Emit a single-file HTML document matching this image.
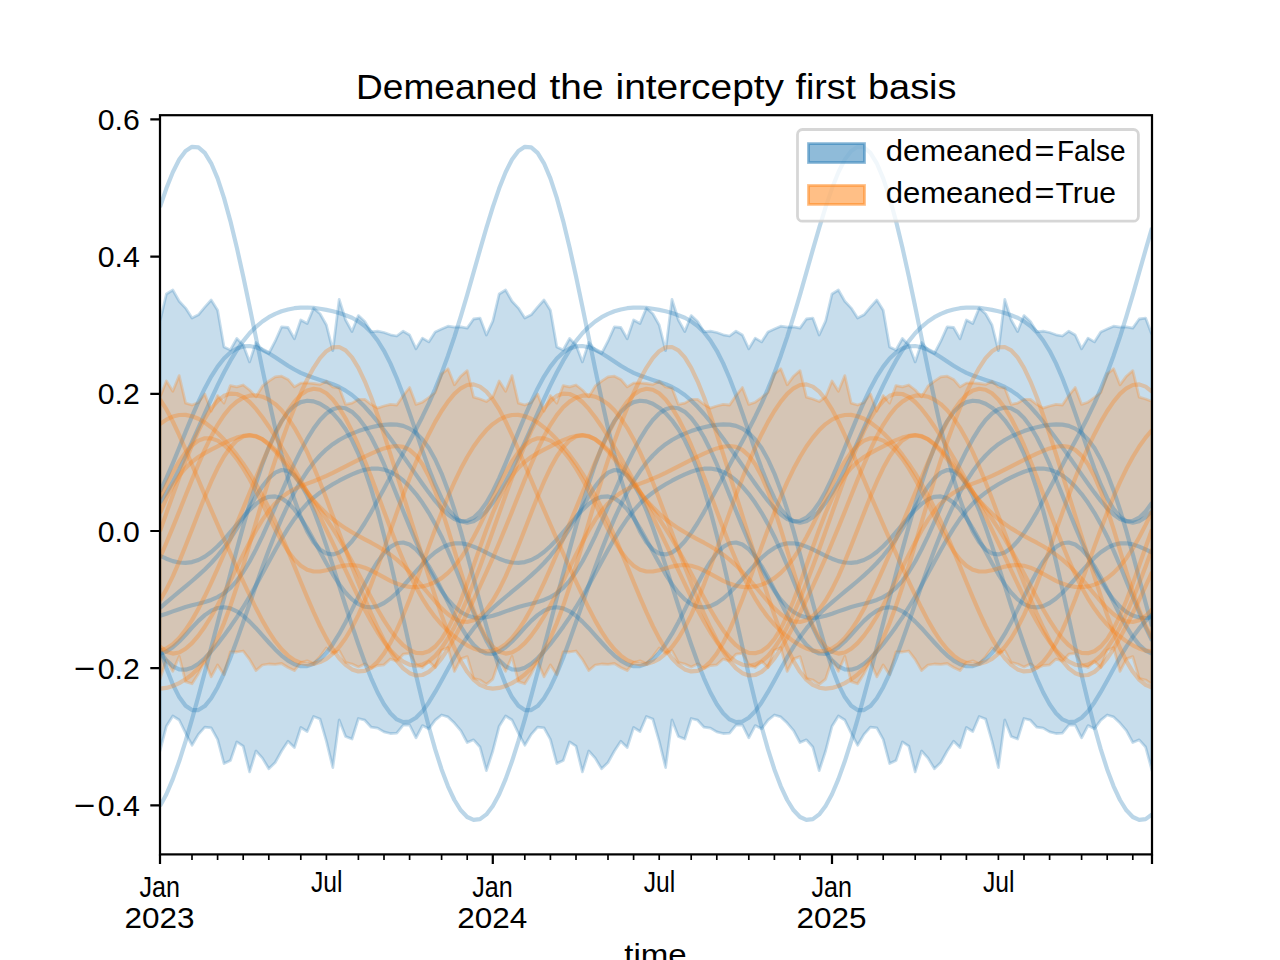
<!DOCTYPE html>
<html><head><meta charset="utf-8"><title>Demeaned the intercepty first basis</title>
<style>html,body{margin:0;padding:0;background:#fff;}body{width:1280px;height:960px;overflow:hidden;font-family:"Liberation Sans",sans-serif;}svg{display:block;}</style>
</head><body>
<svg width="1280" height="960" viewBox="0 0 1280 960">
<rect width="1280" height="960" fill="#fff"/>
<defs><clipPath id="ax"><rect x="160.0" y="115.2" width="992.0" height="739.2"/></clipPath></defs>
<g clip-path="url(#ax)">
<path d="M160.0,321.2 L166.4,294.0 L172.8,290.0 L179.2,301.2 L185.6,308.1 L192.0,318.1 L198.4,314.8 L204.8,307.2 L211.2,300.0 L217.6,310.2 L224.0,346.9 L230.4,350.0 L236.8,338.5 L243.2,345.0 L249.6,361.9 L256.0,342.5 L262.4,350.0 L268.8,353.5 L275.2,341.2 L281.6,326.9 L288.0,327.5 L294.4,338.8 L300.8,320.0 L307.2,323.5 L313.6,308.1 L320.0,313.8 L326.4,325.0 L332.8,350.6 L339.2,299.4 L345.6,320.0 L352.0,331.5 L358.4,315.6 L364.8,321.5 L371.2,331.9 L377.6,331.2 L384.0,332.5 L390.4,334.8 L396.8,336.0 L403.2,331.2 L409.6,335.0 L416.0,348.8 L422.4,338.1 L428.8,341.9 L435.2,331.9 L441.6,329.0 L448.0,326.2 L454.4,327.2 L460.8,326.9 L467.2,328.1 L473.6,319.0 L480.0,318.1 L486.4,335.0 L492.8,321.2 L499.2,294.0 L505.6,290.0 L512.0,301.2 L518.4,308.1 L524.8,318.1 L531.2,314.8 L537.6,307.2 L544.0,300.0 L550.4,310.2 L556.8,346.9 L563.2,350.0 L569.6,338.5 L576.0,345.0 L582.4,361.9 L588.8,342.5 L595.2,350.0 L601.6,353.5 L608.0,341.2 L614.4,326.9 L620.8,327.5 L627.2,338.8 L633.6,320.0 L640.0,323.5 L646.4,308.1 L652.8,313.8 L659.2,325.0 L665.6,350.6 L672.0,299.4 L678.4,320.0 L684.8,331.5 L691.2,315.6 L697.6,321.5 L704.0,331.9 L710.4,331.2 L716.8,332.5 L723.2,334.8 L729.6,336.0 L736.0,331.2 L742.4,335.0 L748.8,348.8 L755.2,338.1 L761.6,341.9 L768.0,331.9 L774.4,329.0 L780.8,326.2 L787.2,327.2 L793.6,326.9 L800.0,328.1 L806.4,319.0 L812.8,318.1 L819.2,335.0 L825.6,321.2 L832.0,294.0 L838.4,290.0 L844.8,301.2 L851.2,308.1 L857.6,318.1 L864.0,314.8 L870.4,307.2 L876.8,300.0 L883.2,310.2 L889.6,346.9 L896.0,350.0 L902.4,338.5 L908.8,345.0 L915.2,361.9 L921.6,342.5 L928.0,350.0 L934.4,353.5 L940.8,341.2 L947.2,326.9 L953.6,327.5 L960.0,338.8 L966.4,320.0 L972.8,323.5 L979.2,308.1 L985.6,313.8 L992.0,325.0 L998.4,350.6 L1004.8,299.4 L1011.2,320.0 L1017.6,331.5 L1024.0,315.6 L1030.4,321.5 L1036.8,331.9 L1043.2,331.2 L1049.6,332.5 L1056.0,334.8 L1062.4,336.0 L1068.8,331.2 L1075.2,335.0 L1081.6,348.8 L1088.0,338.1 L1094.4,341.9 L1100.8,331.9 L1107.2,329.0 L1113.6,326.2 L1120.0,327.2 L1126.4,326.9 L1132.8,328.1 L1139.2,319.0 L1145.6,318.1 L1152.0,335.0 L1152.0,770.6 L1145.6,747.0 L1139.2,739.8 L1132.8,742.5 L1126.4,730.6 L1120.0,723.1 L1113.6,716.9 L1107.2,715.0 L1100.8,720.2 L1094.4,728.8 L1088.0,725.6 L1081.6,737.8 L1075.2,725.0 L1068.8,725.2 L1062.4,733.1 L1056.0,733.5 L1049.6,731.9 L1043.2,728.1 L1036.8,727.2 L1030.4,720.2 L1024.0,718.5 L1017.6,739.0 L1011.2,736.5 L1004.8,720.0 L998.4,767.5 L992.0,741.2 L985.6,719.0 L979.2,716.5 L972.8,731.5 L966.4,727.5 L960.0,747.5 L953.6,741.2 L947.2,751.0 L940.8,762.5 L934.4,768.8 L928.0,758.1 L921.6,751.0 L915.2,771.9 L908.8,746.2 L902.4,741.9 L896.0,760.6 L889.6,763.5 L883.2,739.4 L876.8,727.8 L870.4,727.2 L864.0,734.4 L857.6,745.2 L851.2,733.1 L844.8,720.0 L838.4,716.0 L832.0,726.2 L825.6,751.0 L819.2,770.6 L812.8,747.0 L806.4,739.8 L800.0,742.5 L793.6,730.6 L787.2,723.1 L780.8,716.9 L774.4,715.0 L768.0,720.2 L761.6,728.8 L755.2,725.6 L748.8,737.8 L742.4,725.0 L736.0,725.2 L729.6,733.1 L723.2,733.5 L716.8,731.9 L710.4,728.1 L704.0,727.2 L697.6,720.2 L691.2,718.5 L684.8,739.0 L678.4,736.5 L672.0,720.0 L665.6,767.5 L659.2,741.2 L652.8,719.0 L646.4,716.5 L640.0,731.5 L633.6,727.5 L627.2,747.5 L620.8,741.2 L614.4,751.0 L608.0,762.5 L601.6,768.8 L595.2,758.1 L588.8,751.0 L582.4,771.9 L576.0,746.2 L569.6,741.9 L563.2,760.6 L556.8,763.5 L550.4,739.4 L544.0,727.8 L537.6,727.2 L531.2,734.4 L524.8,745.2 L518.4,733.1 L512.0,720.0 L505.6,716.0 L499.2,726.2 L492.8,751.0 L486.4,770.6 L480.0,747.0 L473.6,739.8 L467.2,742.5 L460.8,730.6 L454.4,723.1 L448.0,716.9 L441.6,715.0 L435.2,720.2 L428.8,728.8 L422.4,725.6 L416.0,737.8 L409.6,725.0 L403.2,725.2 L396.8,733.1 L390.4,733.5 L384.0,731.9 L377.6,728.1 L371.2,727.2 L364.8,720.2 L358.4,718.5 L352.0,739.0 L345.6,736.5 L339.2,720.0 L332.8,767.5 L326.4,741.2 L320.0,719.0 L313.6,716.5 L307.2,731.5 L300.8,727.5 L294.4,747.5 L288.0,741.2 L281.6,751.0 L275.2,762.5 L268.8,768.8 L262.4,758.1 L256.0,751.0 L249.6,771.9 L243.2,746.2 L236.8,741.9 L230.4,760.6 L224.0,763.5 L217.6,739.4 L211.2,727.8 L204.8,727.2 L198.4,734.4 L192.0,745.2 L185.6,733.1 L179.2,720.0 L172.8,716.0 L166.4,726.2 L160.0,751.0Z" fill="#1f77b4" fill-opacity="0.25" stroke="#1f77b4" stroke-opacity="0.25" stroke-width="2.78" stroke-linejoin="round"/>
<path d="M160.0,396.9 L166.4,381.0 L172.8,391.2 L179.2,375.6 L185.6,403.1 L192.0,405.0 L198.4,402.5 L204.8,394.0 L211.2,411.2 L217.6,395.6 L224.0,403.1 L230.4,385.6 L236.8,386.9 L243.2,385.0 L249.6,390.0 L256.0,396.9 L262.4,386.2 L268.8,381.2 L275.2,376.9 L281.6,376.2 L288.0,379.4 L294.4,386.9 L300.8,383.1 L307.2,382.8 L313.6,383.5 L320.0,384.4 L326.4,381.2 L332.8,386.9 L339.2,388.1 L345.6,404.4 L352.0,403.1 L358.4,399.4 L364.8,399.4 L371.2,404.4 L377.6,408.1 L384.0,406.0 L390.4,404.4 L396.8,405.0 L403.2,395.6 L409.6,387.5 L416.0,404.4 L422.4,402.2 L428.8,397.5 L435.2,392.5 L441.6,373.8 L448.0,368.8 L454.4,384.8 L460.8,376.2 L467.2,370.6 L473.6,397.2 L480.0,399.0 L486.4,401.5 L492.8,396.9 L499.2,381.0 L505.6,391.2 L512.0,375.6 L518.4,403.1 L524.8,405.0 L531.2,402.5 L537.6,394.0 L544.0,411.2 L550.4,395.6 L556.8,403.1 L563.2,385.6 L569.6,386.9 L576.0,385.0 L582.4,390.0 L588.8,396.9 L595.2,386.2 L601.6,381.2 L608.0,376.9 L614.4,376.2 L620.8,379.4 L627.2,386.9 L633.6,383.1 L640.0,382.8 L646.4,383.5 L652.8,384.4 L659.2,381.2 L665.6,386.9 L672.0,388.1 L678.4,404.4 L684.8,403.1 L691.2,399.4 L697.6,399.4 L704.0,404.4 L710.4,408.1 L716.8,406.0 L723.2,404.4 L729.6,405.0 L736.0,395.6 L742.4,387.5 L748.8,404.4 L755.2,402.2 L761.6,397.5 L768.0,392.5 L774.4,373.8 L780.8,368.8 L787.2,384.8 L793.6,376.2 L800.0,370.6 L806.4,397.2 L812.8,399.0 L819.2,401.5 L825.6,396.9 L832.0,381.0 L838.4,391.2 L844.8,375.6 L851.2,403.1 L857.6,405.0 L864.0,402.5 L870.4,394.0 L876.8,411.2 L883.2,395.6 L889.6,403.1 L896.0,385.6 L902.4,386.9 L908.8,385.0 L915.2,390.0 L921.6,396.9 L928.0,386.2 L934.4,381.2 L940.8,376.9 L947.2,376.2 L953.6,379.4 L960.0,386.9 L966.4,383.1 L972.8,382.8 L979.2,383.5 L985.6,384.4 L992.0,381.2 L998.4,386.9 L1004.8,388.1 L1011.2,404.4 L1017.6,403.1 L1024.0,399.4 L1030.4,399.4 L1036.8,404.4 L1043.2,408.1 L1049.6,406.0 L1056.0,404.4 L1062.4,405.0 L1068.8,395.6 L1075.2,387.5 L1081.6,404.4 L1088.0,402.2 L1094.4,397.5 L1100.8,392.5 L1107.2,373.8 L1113.6,368.8 L1120.0,384.8 L1126.4,376.2 L1132.8,370.6 L1139.2,397.2 L1145.6,399.0 L1152.0,401.5 L1152.0,684.3 L1145.6,680.0 L1139.2,678.4 L1132.8,656.6 L1126.4,658.9 L1120.0,671.4 L1113.6,647.6 L1107.2,650.3 L1100.8,667.5 L1094.4,661.2 L1088.0,667.5 L1081.6,664.4 L1075.2,653.4 L1068.8,654.2 L1062.4,661.2 L1056.0,659.0 L1049.6,664.8 L1043.2,665.5 L1036.8,668.3 L1030.4,664.0 L1024.0,667.1 L1017.6,664.0 L1011.2,662.4 L1004.8,650.7 L998.4,653.4 L992.0,648.0 L985.6,656.6 L979.2,663.6 L972.8,660.9 L966.4,662.4 L960.0,670.6 L953.6,667.5 L947.2,663.5 L940.8,664.4 L934.4,664.0 L928.0,665.0 L921.6,670.5 L915.2,659.4 L908.8,651.0 L902.4,652.0 L896.0,651.8 L889.6,674.7 L883.2,665.0 L876.8,676.8 L870.4,661.5 L864.0,673.7 L857.6,683.8 L851.2,681.6 L844.8,656.4 L838.4,671.2 L832.0,660.0 L825.6,679.1 L819.2,684.3 L812.8,680.0 L806.4,678.4 L800.0,656.6 L793.6,658.9 L787.2,671.4 L780.8,647.6 L774.4,650.3 L768.0,667.5 L761.6,661.2 L755.2,667.5 L748.8,664.4 L742.4,653.4 L736.0,654.2 L729.6,661.2 L723.2,659.0 L716.8,664.8 L710.4,665.5 L704.0,668.3 L697.6,664.0 L691.2,667.1 L684.8,664.0 L678.4,662.4 L672.0,650.7 L665.6,653.4 L659.2,648.0 L652.8,656.6 L646.4,663.6 L640.0,660.9 L633.6,662.4 L627.2,670.6 L620.8,667.5 L614.4,663.5 L608.0,664.4 L601.6,664.0 L595.2,665.0 L588.8,670.5 L582.4,659.4 L576.0,651.0 L569.6,652.0 L563.2,651.8 L556.8,674.7 L550.4,665.0 L544.0,676.8 L537.6,661.5 L531.2,673.7 L524.8,683.8 L518.4,681.6 L512.0,656.4 L505.6,671.2 L499.2,660.0 L492.8,679.1 L486.4,684.3 L480.0,680.0 L473.6,678.4 L467.2,656.6 L460.8,658.9 L454.4,671.4 L448.0,647.6 L441.6,650.3 L435.2,667.5 L428.8,661.2 L422.4,667.5 L416.0,664.4 L409.6,653.4 L403.2,654.2 L396.8,661.2 L390.4,659.0 L384.0,664.8 L377.6,665.5 L371.2,668.3 L364.8,664.0 L358.4,667.1 L352.0,664.0 L345.6,662.4 L339.2,650.7 L332.8,653.4 L326.4,648.0 L320.0,656.6 L313.6,663.6 L307.2,660.9 L300.8,662.4 L294.4,670.6 L288.0,667.5 L281.6,663.5 L275.2,664.4 L268.8,664.0 L262.4,665.0 L256.0,670.5 L249.6,659.4 L243.2,651.0 L236.8,652.0 L230.4,651.8 L224.0,674.7 L217.6,665.0 L211.2,676.8 L204.8,661.5 L198.4,673.7 L192.0,683.8 L185.6,681.6 L179.2,656.4 L172.8,671.2 L166.4,660.0 L160.0,679.1Z" fill="#ff7f0e" fill-opacity="0.25" stroke="#ff7f0e" stroke-opacity="0.25" stroke-width="2.78" stroke-linejoin="round"/>
<path d="M160.0,806.0 L166.4,794.2 L172.8,779.1 L179.2,761.3 L185.6,741.2 L192.0,719.4 L198.4,696.2 L204.8,672.2 L211.2,647.6 L217.6,622.9 L224.0,598.1 L230.4,573.7 L236.8,549.6 L243.2,526.4 L249.6,504.1 L256.0,483.3 L262.4,464.2 L268.8,447.3 L275.2,432.8 L281.6,421.1 L288.0,412.1 L294.4,405.8 L300.8,402.1 L307.2,400.7 L313.6,401.4 L320.0,403.7 L326.4,407.7 L332.8,413.2 L339.2,420.3 L345.6,429.2 L352.0,440.3 L358.4,453.9 L364.8,470.1 L371.2,489.1 L377.6,510.9 L384.0,535.2 L390.4,561.5 L396.8,589.4 L403.2,618.1 L409.6,646.9 L416.0,675.0 L422.4,701.8 L428.8,726.8 L435.2,749.4 L441.6,769.4 L448.0,786.3 L454.4,800.0 L460.8,810.3 L467.2,817.0 L473.6,819.9 L480.0,819.1 L486.4,814.4 L492.8,806.0 L499.2,794.2 L505.6,779.1 L512.0,761.3 L518.4,741.2 L524.8,719.4 L531.2,696.2 L537.6,672.2 L544.0,647.6 L550.4,622.9 L556.8,598.1 L563.2,573.7 L569.6,549.6 L576.0,526.4 L582.4,504.1 L588.8,483.3 L595.2,464.2 L601.6,447.3 L608.0,432.8 L614.4,421.1 L620.8,412.1 L627.2,405.8 L633.6,402.1 L640.0,400.7 L646.4,401.4 L652.8,403.7 L659.2,407.7 L665.6,413.2 L672.0,420.3 L678.4,429.2 L684.8,440.3 L691.2,453.9 L697.6,470.1 L704.0,489.1 L710.4,510.9 L716.8,535.2 L723.2,561.5 L729.6,589.4 L736.0,618.1 L742.4,646.9 L748.8,675.0 L755.2,701.8 L761.6,726.8 L768.0,749.4 L774.4,769.4 L780.8,786.3 L787.2,800.0 L793.6,810.3 L800.0,817.0 L806.4,819.9 L812.8,819.1 L819.2,814.4 L825.6,806.0 L832.0,794.2 L838.4,779.1 L844.8,761.3 L851.2,741.2 L857.6,719.4 L864.0,696.2 L870.4,672.2 L876.8,647.6 L883.2,622.9 L889.6,598.1 L896.0,573.7 L902.4,549.6 L908.8,526.4 L915.2,504.1 L921.6,483.3 L928.0,464.2 L934.4,447.3 L940.8,432.8 L947.2,421.1 L953.6,412.1 L960.0,405.8 L966.4,402.1 L972.8,400.7 L979.2,401.4 L985.6,403.7 L992.0,407.7 L998.4,413.2 L1004.8,420.3 L1011.2,429.2 L1017.6,440.3 L1024.0,453.9 L1030.4,470.1 L1036.8,489.1 L1043.2,510.9 L1049.6,535.2 L1056.0,561.5 L1062.4,589.4 L1068.8,618.1 L1075.2,646.9 L1081.6,675.0 L1088.0,701.8 L1094.4,726.8 L1100.8,749.4 L1107.2,769.4 L1113.6,786.3 L1120.0,800.0 L1126.4,810.3 L1132.8,817.0 L1139.2,819.9 L1145.6,819.1 L1152.0,814.4" fill="none" stroke="#1f77b4" stroke-opacity="0.3" stroke-width="4.17" stroke-linejoin="round" stroke-linecap="butt"/>
<path d="M160.0,207.1 L166.4,188.3 L172.8,172.2 L179.2,159.5 L185.6,150.9 L192.0,146.8 L198.4,147.4 L204.8,152.9 L211.2,163.3 L217.6,178.4 L224.0,197.9 L230.4,221.1 L236.8,247.5 L243.2,276.3 L249.6,306.7 L256.0,337.9 L262.4,369.1 L268.8,399.3 L275.2,428.1 L281.6,454.7 L288.0,478.6 L294.4,499.5 L300.8,517.2 L307.2,531.4 L313.6,542.1 L320.0,549.4 L326.4,553.5 L332.8,554.4 L339.2,552.5 L345.6,548.0 L352.0,541.3 L358.4,532.8 L364.8,523.0 L371.2,512.1 L377.6,500.5 L384.0,488.7 L390.4,476.8 L396.8,464.9 L403.2,453.1 L409.6,441.3 L416.0,429.2 L422.4,416.7 L428.8,403.4 L435.2,388.9 L441.6,373.1 L448.0,355.7 L454.4,336.8 L460.8,316.4 L467.2,294.8 L473.6,272.4 L480.0,249.9 L486.4,227.9 L492.8,207.1 L499.2,188.3 L505.6,172.2 L512.0,159.5 L518.4,150.9 L524.8,146.8 L531.2,147.4 L537.6,152.9 L544.0,163.3 L550.4,178.4 L556.8,197.9 L563.2,221.1 L569.6,247.5 L576.0,276.3 L582.4,306.7 L588.8,337.9 L595.2,369.1 L601.6,399.3 L608.0,428.1 L614.4,454.7 L620.8,478.6 L627.2,499.5 L633.6,517.2 L640.0,531.4 L646.4,542.1 L652.8,549.4 L659.2,553.5 L665.6,554.4 L672.0,552.5 L678.4,548.0 L684.8,541.3 L691.2,532.8 L697.6,523.0 L704.0,512.1 L710.4,500.5 L716.8,488.7 L723.2,476.8 L729.6,464.9 L736.0,453.1 L742.4,441.3 L748.8,429.2 L755.2,416.7 L761.6,403.4 L768.0,388.9 L774.4,373.1 L780.8,355.7 L787.2,336.8 L793.6,316.4 L800.0,294.8 L806.4,272.4 L812.8,249.9 L819.2,227.9 L825.6,207.1 L832.0,188.3 L838.4,172.2 L844.8,159.5 L851.2,150.9 L857.6,146.8 L864.0,147.4 L870.4,152.9 L876.8,163.3 L883.2,178.4 L889.6,197.9 L896.0,221.1 L902.4,247.5 L908.8,276.3 L915.2,306.7 L921.6,337.9 L928.0,369.1 L934.4,399.3 L940.8,428.1 L947.2,454.7 L953.6,478.6 L960.0,499.5 L966.4,517.2 L972.8,531.4 L979.2,542.1 L985.6,549.4 L992.0,553.5 L998.4,554.4 L1004.8,552.5 L1011.2,548.0 L1017.6,541.3 L1024.0,532.8 L1030.4,523.0 L1036.8,512.1 L1043.2,500.5 L1049.6,488.7 L1056.0,476.8 L1062.4,464.9 L1068.8,453.1 L1075.2,441.3 L1081.6,429.2 L1088.0,416.7 L1094.4,403.4 L1100.8,388.9 L1107.2,373.1 L1113.6,355.7 L1120.0,336.8 L1126.4,316.4 L1132.8,294.8 L1139.2,272.4 L1145.6,249.9 L1152.0,227.9" fill="none" stroke="#1f77b4" stroke-opacity="0.3" stroke-width="4.17" stroke-linejoin="round" stroke-linecap="butt"/>
<path d="M160.0,502.7 L166.4,492.9 L172.8,481.8 L179.2,469.4 L185.6,456.2 L192.0,442.2 L198.4,427.9 L204.8,413.4 L211.2,399.1 L217.6,385.4 L224.0,372.5 L230.4,360.7 L236.8,350.2 L243.2,341.1 L249.6,333.3 L256.0,326.8 L262.4,321.5 L268.8,317.2 L275.2,313.9 L281.6,311.3 L288.0,309.5 L294.4,308.2 L300.8,307.6 L307.2,307.5 L313.6,307.9 L320.0,308.7 L326.4,309.9 L332.8,311.3 L339.2,313.0 L345.6,315.2 L352.0,317.8 L358.4,321.4 L364.8,326.1 L371.2,332.3 L377.6,340.5 L384.0,350.8 L390.4,363.4 L396.8,378.3 L403.2,395.0 L409.6,413.1 L416.0,431.9 L422.4,450.6 L428.8,468.4 L435.2,484.5 L441.6,498.2 L448.0,509.0 L454.4,516.7 L460.8,521.3 L467.2,522.7 L473.6,521.2 L480.0,517.2 L486.4,510.9 L492.8,502.7 L499.2,492.9 L505.6,481.8 L512.0,469.4 L518.4,456.2 L524.8,442.2 L531.2,427.9 L537.6,413.4 L544.0,399.1 L550.4,385.4 L556.8,372.5 L563.2,360.7 L569.6,350.2 L576.0,341.1 L582.4,333.3 L588.8,326.8 L595.2,321.5 L601.6,317.2 L608.0,313.9 L614.4,311.3 L620.8,309.5 L627.2,308.2 L633.6,307.6 L640.0,307.5 L646.4,307.9 L652.8,308.7 L659.2,309.9 L665.6,311.3 L672.0,313.0 L678.4,315.2 L684.8,317.8 L691.2,321.4 L697.6,326.1 L704.0,332.3 L710.4,340.5 L716.8,350.8 L723.2,363.4 L729.6,378.3 L736.0,395.0 L742.4,413.1 L748.8,431.9 L755.2,450.6 L761.6,468.4 L768.0,484.5 L774.4,498.2 L780.8,509.0 L787.2,516.7 L793.6,521.3 L800.0,522.7 L806.4,521.2 L812.8,517.2 L819.2,510.9 L825.6,502.7 L832.0,492.9 L838.4,481.8 L844.8,469.4 L851.2,456.2 L857.6,442.2 L864.0,427.9 L870.4,413.4 L876.8,399.1 L883.2,385.4 L889.6,372.5 L896.0,360.7 L902.4,350.2 L908.8,341.1 L915.2,333.3 L921.6,326.8 L928.0,321.5 L934.4,317.2 L940.8,313.9 L947.2,311.3 L953.6,309.5 L960.0,308.2 L966.4,307.6 L972.8,307.5 L979.2,307.9 L985.6,308.7 L992.0,309.9 L998.4,311.3 L1004.8,313.0 L1011.2,315.2 L1017.6,317.8 L1024.0,321.4 L1030.4,326.1 L1036.8,332.3 L1043.2,340.5 L1049.6,350.8 L1056.0,363.4 L1062.4,378.3 L1068.8,395.0 L1075.2,413.1 L1081.6,431.9 L1088.0,450.6 L1094.4,468.4 L1100.8,484.5 L1107.2,498.2 L1113.6,509.0 L1120.0,516.7 L1126.4,521.3 L1132.8,522.7 L1139.2,521.2 L1145.6,517.2 L1152.0,510.9" fill="none" stroke="#1f77b4" stroke-opacity="0.3" stroke-width="4.17" stroke-linejoin="round" stroke-linecap="butt"/>
<path d="M160.0,491.5 L166.4,478.2 L172.8,463.4 L179.2,447.8 L185.6,431.9 L192.0,416.4 L198.4,401.8 L204.8,388.4 L211.2,376.6 L217.6,366.6 L224.0,358.5 L230.4,352.5 L236.8,348.5 L243.2,346.4 L249.6,346.0 L256.0,347.3 L262.4,349.8 L268.8,353.2 L275.2,357.2 L281.6,361.5 L288.0,365.7 L294.4,369.5 L300.8,372.8 L307.2,375.5 L313.6,377.8 L320.0,379.9 L326.4,381.9 L332.8,384.1 L339.2,387.0 L345.6,390.6 L352.0,395.0 L358.4,400.5 L364.8,406.8 L371.2,414.0 L377.6,421.7 L384.0,430.0 L390.4,438.5 L396.8,447.4 L403.2,456.3 L409.6,465.4 L416.0,474.6 L422.4,483.7 L428.8,492.6 L435.2,500.9 L441.6,508.4 L448.0,514.6 L454.4,519.0 L460.8,521.2 L467.2,520.8 L473.6,517.7 L480.0,511.6 L486.4,502.8 L492.8,491.5 L499.2,478.2 L505.6,463.4 L512.0,447.8 L518.4,431.9 L524.8,416.4 L531.2,401.8 L537.6,388.4 L544.0,376.6 L550.4,366.6 L556.8,358.5 L563.2,352.5 L569.6,348.5 L576.0,346.4 L582.4,346.0 L588.8,347.3 L595.2,349.8 L601.6,353.2 L608.0,357.2 L614.4,361.5 L620.8,365.7 L627.2,369.5 L633.6,372.8 L640.0,375.5 L646.4,377.8 L652.8,379.9 L659.2,381.9 L665.6,384.1 L672.0,387.0 L678.4,390.6 L684.8,395.0 L691.2,400.5 L697.6,406.8 L704.0,414.0 L710.4,421.7 L716.8,430.0 L723.2,438.5 L729.6,447.4 L736.0,456.3 L742.4,465.4 L748.8,474.6 L755.2,483.7 L761.6,492.6 L768.0,500.9 L774.4,508.4 L780.8,514.6 L787.2,519.0 L793.6,521.2 L800.0,520.8 L806.4,517.7 L812.8,511.6 L819.2,502.8 L825.6,491.5 L832.0,478.2 L838.4,463.4 L844.8,447.8 L851.2,431.9 L857.6,416.4 L864.0,401.8 L870.4,388.4 L876.8,376.6 L883.2,366.6 L889.6,358.5 L896.0,352.5 L902.4,348.5 L908.8,346.4 L915.2,346.0 L921.6,347.3 L928.0,349.8 L934.4,353.2 L940.8,357.2 L947.2,361.5 L953.6,365.7 L960.0,369.5 L966.4,372.8 L972.8,375.5 L979.2,377.8 L985.6,379.9 L992.0,381.9 L998.4,384.1 L1004.8,387.0 L1011.2,390.6 L1017.6,395.0 L1024.0,400.5 L1030.4,406.8 L1036.8,414.0 L1043.2,421.7 L1049.6,430.0 L1056.0,438.5 L1062.4,447.4 L1068.8,456.3 L1075.2,465.4 L1081.6,474.6 L1088.0,483.7 L1094.4,492.6 L1100.8,500.9 L1107.2,508.4 L1113.6,514.6 L1120.0,519.0 L1126.4,521.2 L1132.8,520.8 L1139.2,517.7 L1145.6,511.6 L1152.0,502.8" fill="none" stroke="#1f77b4" stroke-opacity="0.3" stroke-width="4.17" stroke-linejoin="round" stroke-linecap="butt"/>
<path d="M160.0,608.0 L166.4,602.4 L172.8,597.0 L179.2,591.7 L185.6,586.4 L192.0,581.0 L198.4,575.4 L204.8,569.5 L211.2,563.0 L217.6,555.8 L224.0,547.7 L230.4,538.7 L236.8,528.7 L243.2,518.0 L249.6,507.0 L256.0,496.2 L262.4,486.4 L268.8,478.3 L275.2,472.6 L281.6,470.0 L288.0,470.9 L294.4,475.5 L300.8,483.9 L307.2,495.6 L313.6,510.3 L320.0,527.3 L326.4,545.9 L332.8,565.7 L339.2,585.8 L345.6,606.0 L352.0,625.7 L358.4,644.5 L364.8,662.2 L371.2,678.3 L377.6,692.5 L384.0,704.3 L390.4,713.3 L396.8,719.4 L403.2,722.1 L409.6,721.5 L416.0,717.8 L422.4,711.2 L428.8,702.4 L435.2,691.9 L441.6,680.4 L448.0,668.7 L454.4,657.3 L460.8,646.6 L467.2,637.0 L473.6,628.4 L480.0,620.8 L486.4,614.1 L492.8,608.0 L499.2,602.4 L505.6,597.0 L512.0,591.7 L518.4,586.4 L524.8,581.0 L531.2,575.4 L537.6,569.5 L544.0,563.0 L550.4,555.8 L556.8,547.7 L563.2,538.7 L569.6,528.7 L576.0,518.0 L582.4,507.0 L588.8,496.2 L595.2,486.4 L601.6,478.3 L608.0,472.6 L614.4,470.0 L620.8,470.9 L627.2,475.5 L633.6,483.9 L640.0,495.6 L646.4,510.3 L652.8,527.3 L659.2,545.9 L665.6,565.7 L672.0,585.8 L678.4,606.0 L684.8,625.7 L691.2,644.5 L697.6,662.2 L704.0,678.3 L710.4,692.5 L716.8,704.3 L723.2,713.3 L729.6,719.4 L736.0,722.1 L742.4,721.5 L748.8,717.8 L755.2,711.2 L761.6,702.4 L768.0,691.9 L774.4,680.4 L780.8,668.7 L787.2,657.3 L793.6,646.6 L800.0,637.0 L806.4,628.4 L812.8,620.8 L819.2,614.1 L825.6,608.0 L832.0,602.4 L838.4,597.0 L844.8,591.7 L851.2,586.4 L857.6,581.0 L864.0,575.4 L870.4,569.5 L876.8,563.0 L883.2,555.8 L889.6,547.7 L896.0,538.7 L902.4,528.7 L908.8,518.0 L915.2,507.0 L921.6,496.2 L928.0,486.4 L934.4,478.3 L940.8,472.6 L947.2,470.0 L953.6,470.9 L960.0,475.5 L966.4,483.9 L972.8,495.6 L979.2,510.3 L985.6,527.3 L992.0,545.9 L998.4,565.7 L1004.8,585.8 L1011.2,606.0 L1017.6,625.7 L1024.0,644.5 L1030.4,662.2 L1036.8,678.3 L1043.2,692.5 L1049.6,704.3 L1056.0,713.3 L1062.4,719.4 L1068.8,722.1 L1075.2,721.5 L1081.6,717.8 L1088.0,711.2 L1094.4,702.4 L1100.8,691.9 L1107.2,680.4 L1113.6,668.7 L1120.0,657.3 L1126.4,646.6 L1132.8,637.0 L1139.2,628.4 L1145.6,620.8 L1152.0,614.1" fill="none" stroke="#1f77b4" stroke-opacity="0.3" stroke-width="4.17" stroke-linejoin="round" stroke-linecap="butt"/>
<path d="M160.0,648.3 L166.4,667.9 L172.8,684.4 L179.2,697.1 L185.6,705.8 L192.0,710.1 L198.4,710.1 L204.8,706.1 L211.2,698.3 L217.6,687.2 L224.0,673.5 L230.4,657.7 L236.8,640.4 L243.2,622.3 L249.6,603.7 L256.0,585.3 L262.4,567.3 L268.8,550.0 L275.2,533.8 L281.6,518.6 L288.0,504.8 L294.4,492.2 L300.8,481.1 L307.2,471.3 L313.6,462.7 L320.0,455.5 L326.4,449.3 L332.8,444.2 L339.2,440.0 L345.6,436.5 L352.0,433.6 L358.4,431.1 L364.8,429.0 L371.2,427.3 L377.6,425.9 L384.0,424.8 L390.4,424.4 L396.8,424.6 L403.2,425.9 L409.6,428.6 L416.0,433.0 L422.4,439.4 L428.8,448.1 L435.2,459.5 L441.6,473.6 L448.0,490.4 L454.4,509.7 L460.8,531.2 L467.2,554.4 L473.6,578.5 L480.0,602.8 L486.4,626.3 L492.8,648.3 L499.2,667.9 L505.6,684.4 L512.0,697.1 L518.4,705.8 L524.8,710.1 L531.2,710.1 L537.6,706.1 L544.0,698.3 L550.4,687.2 L556.8,673.5 L563.2,657.7 L569.6,640.4 L576.0,622.3 L582.4,603.7 L588.8,585.3 L595.2,567.3 L601.6,550.0 L608.0,533.8 L614.4,518.6 L620.8,504.8 L627.2,492.2 L633.6,481.1 L640.0,471.3 L646.4,462.7 L652.8,455.5 L659.2,449.3 L665.6,444.2 L672.0,440.0 L678.4,436.5 L684.8,433.6 L691.2,431.1 L697.6,429.0 L704.0,427.3 L710.4,425.9 L716.8,424.8 L723.2,424.4 L729.6,424.6 L736.0,425.9 L742.4,428.6 L748.8,433.0 L755.2,439.4 L761.6,448.1 L768.0,459.5 L774.4,473.6 L780.8,490.4 L787.2,509.7 L793.6,531.2 L800.0,554.4 L806.4,578.5 L812.8,602.8 L819.2,626.3 L825.6,648.3 L832.0,667.9 L838.4,684.4 L844.8,697.1 L851.2,705.8 L857.6,710.1 L864.0,710.1 L870.4,706.1 L876.8,698.3 L883.2,687.2 L889.6,673.5 L896.0,657.7 L902.4,640.4 L908.8,622.3 L915.2,603.7 L921.6,585.3 L928.0,567.3 L934.4,550.0 L940.8,533.8 L947.2,518.6 L953.6,504.8 L960.0,492.2 L966.4,481.1 L972.8,471.3 L979.2,462.7 L985.6,455.5 L992.0,449.3 L998.4,444.2 L1004.8,440.0 L1011.2,436.5 L1017.6,433.6 L1024.0,431.1 L1030.4,429.0 L1036.8,427.3 L1043.2,425.9 L1049.6,424.8 L1056.0,424.4 L1062.4,424.6 L1068.8,425.9 L1075.2,428.6 L1081.6,433.0 L1088.0,439.4 L1094.4,448.1 L1100.8,459.5 L1107.2,473.6 L1113.6,490.4 L1120.0,509.7 L1126.4,531.2 L1132.8,554.4 L1139.2,578.5 L1145.6,602.8 L1152.0,626.3" fill="none" stroke="#1f77b4" stroke-opacity="0.3" stroke-width="4.17" stroke-linejoin="round" stroke-linecap="butt"/>
<path d="M160.0,651.8 L166.4,660.4 L172.8,666.3 L179.2,669.4 L185.6,669.7 L192.0,667.7 L198.4,663.8 L204.8,658.2 L211.2,651.5 L217.6,643.9 L224.0,635.6 L230.4,626.7 L236.8,617.3 L243.2,607.2 L249.6,596.5 L256.0,585.2 L262.4,573.6 L268.8,561.7 L275.2,550.0 L281.6,538.8 L288.0,528.3 L294.4,518.9 L300.8,510.7 L307.2,503.6 L313.6,497.6 L320.0,492.6 L326.4,488.2 L332.8,484.3 L339.2,480.7 L345.6,477.4 L352.0,474.4 L358.4,471.8 L364.8,469.8 L371.2,468.7 L377.6,468.5 L384.0,469.6 L390.4,471.9 L396.8,475.5 L403.2,480.4 L409.6,486.6 L416.0,494.1 L422.4,502.8 L428.8,512.8 L435.2,524.1 L441.6,536.7 L448.0,550.6 L454.4,565.5 L460.8,581.1 L467.2,597.0 L473.6,612.6 L480.0,627.4 L486.4,640.6 L492.8,651.8 L499.2,660.4 L505.6,666.3 L512.0,669.4 L518.4,669.7 L524.8,667.7 L531.2,663.8 L537.6,658.2 L544.0,651.5 L550.4,643.9 L556.8,635.6 L563.2,626.7 L569.6,617.3 L576.0,607.2 L582.4,596.5 L588.8,585.2 L595.2,573.6 L601.6,561.7 L608.0,550.0 L614.4,538.8 L620.8,528.3 L627.2,518.9 L633.6,510.7 L640.0,503.6 L646.4,497.6 L652.8,492.6 L659.2,488.2 L665.6,484.3 L672.0,480.7 L678.4,477.4 L684.8,474.4 L691.2,471.8 L697.6,469.8 L704.0,468.7 L710.4,468.5 L716.8,469.6 L723.2,471.9 L729.6,475.5 L736.0,480.4 L742.4,486.6 L748.8,494.1 L755.2,502.8 L761.6,512.8 L768.0,524.1 L774.4,536.7 L780.8,550.6 L787.2,565.5 L793.6,581.1 L800.0,597.0 L806.4,612.6 L812.8,627.4 L819.2,640.6 L825.6,651.8 L832.0,660.4 L838.4,666.3 L844.8,669.4 L851.2,669.7 L857.6,667.7 L864.0,663.8 L870.4,658.2 L876.8,651.5 L883.2,643.9 L889.6,635.6 L896.0,626.7 L902.4,617.3 L908.8,607.2 L915.2,596.5 L921.6,585.2 L928.0,573.6 L934.4,561.7 L940.8,550.0 L947.2,538.8 L953.6,528.3 L960.0,518.9 L966.4,510.7 L972.8,503.6 L979.2,497.6 L985.6,492.6 L992.0,488.2 L998.4,484.3 L1004.8,480.7 L1011.2,477.4 L1017.6,474.4 L1024.0,471.8 L1030.4,469.8 L1036.8,468.7 L1043.2,468.5 L1049.6,469.6 L1056.0,471.9 L1062.4,475.5 L1068.8,480.4 L1075.2,486.6 L1081.6,494.1 L1088.0,502.8 L1094.4,512.8 L1100.8,524.1 L1107.2,536.7 L1113.6,550.6 L1120.0,565.5 L1126.4,581.1 L1132.8,597.0 L1139.2,612.6 L1145.6,627.4 L1152.0,640.6" fill="none" stroke="#1f77b4" stroke-opacity="0.3" stroke-width="4.17" stroke-linejoin="round" stroke-linecap="butt"/>
<path d="M160.0,615.8 L166.4,613.7 L172.8,611.4 L179.2,609.2 L185.6,607.1 L192.0,605.3 L198.4,603.7 L204.8,602.0 L211.2,599.9 L217.6,597.1 L224.0,593.2 L230.4,587.8 L236.8,580.8 L243.2,572.0 L249.6,561.5 L256.0,549.4 L262.4,536.1 L268.8,521.9 L275.2,507.2 L281.6,492.3 L288.0,477.7 L294.4,463.7 L300.8,450.7 L307.2,438.9 L313.6,428.6 L320.0,420.0 L326.4,413.5 L332.8,409.3 L339.2,407.5 L345.6,408.3 L352.0,411.8 L358.4,417.9 L364.8,426.5 L371.2,437.3 L377.6,450.0 L384.0,464.2 L390.4,479.3 L396.8,495.1 L403.2,511.0 L409.6,526.6 L416.0,541.7 L422.4,555.9 L428.8,568.9 L435.2,580.7 L441.6,591.0 L448.0,599.7 L454.4,606.7 L460.8,612.0 L467.2,615.5 L473.6,617.5 L480.0,618.0 L486.4,617.3 L492.8,615.8 L499.2,613.7 L505.6,611.4 L512.0,609.2 L518.4,607.1 L524.8,605.3 L531.2,603.7 L537.6,602.0 L544.0,599.9 L550.4,597.1 L556.8,593.2 L563.2,587.8 L569.6,580.8 L576.0,572.0 L582.4,561.5 L588.8,549.4 L595.2,536.1 L601.6,521.9 L608.0,507.2 L614.4,492.3 L620.8,477.7 L627.2,463.7 L633.6,450.7 L640.0,438.9 L646.4,428.6 L652.8,420.0 L659.2,413.5 L665.6,409.3 L672.0,407.5 L678.4,408.3 L684.8,411.8 L691.2,417.9 L697.6,426.5 L704.0,437.3 L710.4,450.0 L716.8,464.2 L723.2,479.3 L729.6,495.1 L736.0,511.0 L742.4,526.6 L748.8,541.7 L755.2,555.9 L761.6,568.9 L768.0,580.7 L774.4,591.0 L780.8,599.7 L787.2,606.7 L793.6,612.0 L800.0,615.5 L806.4,617.5 L812.8,618.0 L819.2,617.3 L825.6,615.8 L832.0,613.7 L838.4,611.4 L844.8,609.2 L851.2,607.1 L857.6,605.3 L864.0,603.7 L870.4,602.0 L876.8,599.9 L883.2,597.1 L889.6,593.2 L896.0,587.8 L902.4,580.8 L908.8,572.0 L915.2,561.5 L921.6,549.4 L928.0,536.1 L934.4,521.9 L940.8,507.2 L947.2,492.3 L953.6,477.7 L960.0,463.7 L966.4,450.7 L972.8,438.9 L979.2,428.6 L985.6,420.0 L992.0,413.5 L998.4,409.3 L1004.8,407.5 L1011.2,408.3 L1017.6,411.8 L1024.0,417.9 L1030.4,426.5 L1036.8,437.3 L1043.2,450.0 L1049.6,464.2 L1056.0,479.3 L1062.4,495.1 L1068.8,511.0 L1075.2,526.6 L1081.6,541.7 L1088.0,555.9 L1094.4,568.9 L1100.8,580.7 L1107.2,591.0 L1113.6,599.7 L1120.0,606.7 L1126.4,612.0 L1132.8,615.5 L1139.2,617.5 L1145.6,618.0 L1152.0,617.3" fill="none" stroke="#1f77b4" stroke-opacity="0.3" stroke-width="4.17" stroke-linejoin="round" stroke-linecap="butt"/>
<path d="M160.0,653.8 L166.4,651.6 L172.8,647.3 L179.2,641.5 L185.6,634.7 L192.0,627.6 L198.4,620.9 L204.8,615.1 L211.2,610.7 L217.6,608.0 L224.0,607.3 L230.4,608.4 L236.8,611.3 L243.2,615.8 L249.6,621.6 L256.0,628.2 L262.4,635.3 L268.8,642.5 L275.2,649.4 L281.6,655.6 L288.0,660.6 L294.4,664.3 L300.8,666.2 L307.2,666.1 L313.6,663.9 L320.0,659.5 L326.4,652.9 L332.8,644.2 L339.2,633.9 L345.6,622.2 L352.0,609.6 L358.4,596.6 L364.8,584.0 L371.2,572.1 L377.6,561.7 L384.0,553.2 L390.4,546.9 L396.8,543.3 L403.2,542.5 L409.6,544.5 L416.0,549.3 L422.4,556.6 L428.8,566.1 L435.2,577.3 L441.6,589.6 L448.0,602.4 L454.4,615.0 L460.8,626.7 L467.2,636.8 L473.6,644.9 L480.0,650.5 L486.4,653.5 L492.8,653.8 L499.2,651.6 L505.6,647.3 L512.0,641.5 L518.4,634.7 L524.8,627.6 L531.2,620.9 L537.6,615.1 L544.0,610.7 L550.4,608.0 L556.8,607.3 L563.2,608.4 L569.6,611.3 L576.0,615.8 L582.4,621.6 L588.8,628.2 L595.2,635.3 L601.6,642.5 L608.0,649.4 L614.4,655.6 L620.8,660.6 L627.2,664.3 L633.6,666.2 L640.0,666.1 L646.4,663.9 L652.8,659.5 L659.2,652.9 L665.6,644.2 L672.0,633.9 L678.4,622.2 L684.8,609.6 L691.2,596.6 L697.6,584.0 L704.0,572.1 L710.4,561.7 L716.8,553.2 L723.2,546.9 L729.6,543.3 L736.0,542.5 L742.4,544.5 L748.8,549.3 L755.2,556.6 L761.6,566.1 L768.0,577.3 L774.4,589.6 L780.8,602.4 L787.2,615.0 L793.6,626.7 L800.0,636.8 L806.4,644.9 L812.8,650.5 L819.2,653.5 L825.6,653.8 L832.0,651.6 L838.4,647.3 L844.8,641.5 L851.2,634.7 L857.6,627.6 L864.0,620.9 L870.4,615.1 L876.8,610.7 L883.2,608.0 L889.6,607.3 L896.0,608.4 L902.4,611.3 L908.8,615.8 L915.2,621.6 L921.6,628.2 L928.0,635.3 L934.4,642.5 L940.8,649.4 L947.2,655.6 L953.6,660.6 L960.0,664.3 L966.4,666.2 L972.8,666.1 L979.2,663.9 L985.6,659.5 L992.0,652.9 L998.4,644.2 L1004.8,633.9 L1011.2,622.2 L1017.6,609.6 L1024.0,596.6 L1030.4,584.0 L1036.8,572.1 L1043.2,561.7 L1049.6,553.2 L1056.0,546.9 L1062.4,543.3 L1068.8,542.5 L1075.2,544.5 L1081.6,549.3 L1088.0,556.6 L1094.4,566.1 L1100.8,577.3 L1107.2,589.6 L1113.6,602.4 L1120.0,615.0 L1126.4,626.7 L1132.8,636.8 L1139.2,644.9 L1145.6,650.5 L1152.0,653.5" fill="none" stroke="#1f77b4" stroke-opacity="0.3" stroke-width="4.17" stroke-linejoin="round" stroke-linecap="butt"/>
<path d="M160.0,555.8 L166.4,558.7 L172.8,561.1 L179.2,562.5 L185.6,562.9 L192.0,562.1 L198.4,560.0 L204.8,556.6 L211.2,552.0 L217.6,546.3 L224.0,539.6 L230.4,532.2 L236.8,524.6 L243.2,517.0 L249.6,509.9 L256.0,503.9 L262.4,499.4 L268.8,496.8 L275.2,496.4 L281.6,498.3 L288.0,502.8 L294.4,509.4 L300.8,518.1 L307.2,528.4 L313.6,539.7 L320.0,551.5 L326.4,563.2 L332.8,574.3 L339.2,584.2 L345.6,592.7 L352.0,599.4 L358.4,604.1 L364.8,606.7 L371.2,607.4 L377.6,606.1 L384.0,603.0 L390.4,598.5 L396.8,592.7 L403.2,586.0 L409.6,578.8 L416.0,571.4 L422.4,564.3 L428.8,557.8 L435.2,552.2 L441.6,547.9 L448.0,544.9 L454.4,543.4 L460.8,543.3 L467.2,544.4 L473.6,546.6 L480.0,549.4 L486.4,552.6 L492.8,555.8 L499.2,558.7 L505.6,561.1 L512.0,562.5 L518.4,562.9 L524.8,562.1 L531.2,560.0 L537.6,556.6 L544.0,552.0 L550.4,546.3 L556.8,539.6 L563.2,532.2 L569.6,524.6 L576.0,517.0 L582.4,509.9 L588.8,503.9 L595.2,499.4 L601.6,496.8 L608.0,496.4 L614.4,498.3 L620.8,502.8 L627.2,509.4 L633.6,518.1 L640.0,528.4 L646.4,539.7 L652.8,551.5 L659.2,563.2 L665.6,574.3 L672.0,584.2 L678.4,592.7 L684.8,599.4 L691.2,604.1 L697.6,606.7 L704.0,607.4 L710.4,606.1 L716.8,603.0 L723.2,598.5 L729.6,592.7 L736.0,586.0 L742.4,578.8 L748.8,571.4 L755.2,564.3 L761.6,557.8 L768.0,552.2 L774.4,547.9 L780.8,544.9 L787.2,543.4 L793.6,543.3 L800.0,544.4 L806.4,546.6 L812.8,549.4 L819.2,552.6 L825.6,555.8 L832.0,558.7 L838.4,561.1 L844.8,562.5 L851.2,562.9 L857.6,562.1 L864.0,560.0 L870.4,556.6 L876.8,552.0 L883.2,546.3 L889.6,539.6 L896.0,532.2 L902.4,524.6 L908.8,517.0 L915.2,509.9 L921.6,503.9 L928.0,499.4 L934.4,496.8 L940.8,496.4 L947.2,498.3 L953.6,502.8 L960.0,509.4 L966.4,518.1 L972.8,528.4 L979.2,539.7 L985.6,551.5 L992.0,563.2 L998.4,574.3 L1004.8,584.2 L1011.2,592.7 L1017.6,599.4 L1024.0,604.1 L1030.4,606.7 L1036.8,607.4 L1043.2,606.1 L1049.6,603.0 L1056.0,598.5 L1062.4,592.7 L1068.8,586.0 L1075.2,578.8 L1081.6,571.4 L1088.0,564.3 L1094.4,557.8 L1100.8,552.2 L1107.2,547.9 L1113.6,544.9 L1120.0,543.4 L1126.4,543.3 L1132.8,544.4 L1139.2,546.6 L1145.6,549.4 L1152.0,552.6" fill="none" stroke="#1f77b4" stroke-opacity="0.3" stroke-width="4.17" stroke-linejoin="round" stroke-linecap="butt"/>
<path d="M160.0,688.6 L166.4,687.9 L172.8,686.0 L179.2,683.1 L185.6,679.3 L192.0,674.5 L198.4,668.3 L204.8,660.4 L211.2,650.4 L217.6,638.0 L224.0,623.1 L230.4,605.9 L236.8,586.6 L243.2,565.8 L249.6,544.2 L256.0,522.3 L262.4,500.7 L268.8,479.9 L275.2,460.1 L281.6,441.5 L288.0,424.1 L294.4,407.9 L300.8,393.0 L307.2,379.5 L313.6,367.8 L320.0,358.2 L326.4,351.2 L332.8,347.4 L339.2,347.0 L345.6,350.3 L352.0,357.3 L358.4,367.8 L364.8,381.3 L371.2,397.3 L377.6,415.2 L384.0,434.3 L390.4,454.2 L396.8,474.5 L403.2,495.0 L409.6,515.5 L416.0,536.0 L422.4,556.5 L428.8,576.7 L435.2,596.4 L441.6,615.1 L448.0,632.5 L454.4,648.0 L460.8,661.2 L467.2,671.8 L473.6,679.6 L480.0,684.9 L486.4,687.7 L492.8,688.6 L499.2,687.9 L505.6,686.0 L512.0,683.1 L518.4,679.3 L524.8,674.5 L531.2,668.3 L537.6,660.4 L544.0,650.4 L550.4,638.0 L556.8,623.1 L563.2,605.9 L569.6,586.6 L576.0,565.8 L582.4,544.2 L588.8,522.3 L595.2,500.7 L601.6,479.9 L608.0,460.1 L614.4,441.5 L620.8,424.1 L627.2,407.9 L633.6,393.0 L640.0,379.5 L646.4,367.8 L652.8,358.2 L659.2,351.2 L665.6,347.4 L672.0,347.0 L678.4,350.3 L684.8,357.3 L691.2,367.8 L697.6,381.3 L704.0,397.3 L710.4,415.2 L716.8,434.3 L723.2,454.2 L729.6,474.5 L736.0,495.0 L742.4,515.5 L748.8,536.0 L755.2,556.5 L761.6,576.7 L768.0,596.4 L774.4,615.1 L780.8,632.5 L787.2,648.0 L793.6,661.2 L800.0,671.8 L806.4,679.6 L812.8,684.9 L819.2,687.7 L825.6,688.6 L832.0,687.9 L838.4,686.0 L844.8,683.1 L851.2,679.3 L857.6,674.5 L864.0,668.3 L870.4,660.4 L876.8,650.4 L883.2,638.0 L889.6,623.1 L896.0,605.9 L902.4,586.6 L908.8,565.8 L915.2,544.2 L921.6,522.3 L928.0,500.7 L934.4,479.9 L940.8,460.1 L947.2,441.5 L953.6,424.1 L960.0,407.9 L966.4,393.0 L972.8,379.5 L979.2,367.8 L985.6,358.2 L992.0,351.3 L998.4,347.4 L1004.8,347.0 L1011.2,350.3 L1017.6,357.3 L1024.0,367.8 L1030.4,381.3 L1036.8,397.3 L1043.2,415.2 L1049.6,434.3 L1056.0,454.2 L1062.4,474.5 L1068.8,495.0 L1075.2,515.5 L1081.6,536.0 L1088.0,556.5 L1094.4,576.7 L1100.8,596.4 L1107.2,615.1 L1113.6,632.5 L1120.0,648.0 L1126.4,661.2 L1132.8,671.8 L1139.2,679.6 L1145.6,684.9 L1152.0,687.7" fill="none" stroke="#ff7f0e" stroke-opacity="0.3" stroke-width="4.17" stroke-linejoin="round" stroke-linecap="butt"/>
<path d="M160.0,531.1 L166.4,513.1 L172.8,495.2 L179.2,477.7 L185.6,460.9 L192.0,445.2 L198.4,430.9 L204.8,418.6 L211.2,408.5 L217.6,400.8 L224.0,395.8 L230.4,393.6 L236.8,394.0 L243.2,396.9 L249.6,402.0 L256.0,408.9 L262.4,417.2 L268.8,426.5 L275.2,436.5 L281.6,447.0 L288.0,457.9 L294.4,469.0 L300.8,480.4 L307.2,492.1 L313.6,504.3 L320.0,516.8 L326.4,529.8 L332.8,543.1 L339.2,556.7 L345.6,570.4 L352.0,583.9 L358.4,597.1 L364.8,609.7 L371.2,621.5 L377.6,632.3 L384.0,641.9 L390.4,650.1 L396.8,656.7 L403.2,661.6 L409.6,664.7 L416.0,665.7 L422.4,664.6 L428.8,661.3 L435.2,655.8 L441.6,648.1 L448.0,638.4 L454.4,626.9 L460.8,613.6 L467.2,599.0 L473.6,583.1 L480.0,566.4 L486.4,549.0 L492.8,531.1 L499.2,513.1 L505.6,495.2 L512.0,477.7 L518.4,460.9 L524.8,445.2 L531.2,430.9 L537.6,418.6 L544.0,408.5 L550.4,400.8 L556.8,395.8 L563.2,393.6 L569.6,394.0 L576.0,396.9 L582.4,402.0 L588.8,408.9 L595.2,417.2 L601.6,426.5 L608.0,436.5 L614.4,447.0 L620.8,457.9 L627.2,469.0 L633.6,480.4 L640.0,492.1 L646.4,504.3 L652.8,516.8 L659.2,529.8 L665.6,543.1 L672.0,556.7 L678.4,570.4 L684.8,583.9 L691.2,597.1 L697.6,609.7 L704.0,621.5 L710.4,632.3 L716.8,641.9 L723.2,650.1 L729.6,656.7 L736.0,661.6 L742.4,664.7 L748.8,665.7 L755.2,664.6 L761.6,661.3 L768.0,655.8 L774.4,648.1 L780.8,638.4 L787.2,626.9 L793.6,613.6 L800.0,599.0 L806.4,583.1 L812.8,566.4 L819.2,549.0 L825.6,531.1 L832.0,513.1 L838.4,495.2 L844.8,477.7 L851.2,460.9 L857.6,445.2 L864.0,430.9 L870.4,418.6 L876.8,408.5 L883.2,400.8 L889.6,395.8 L896.0,393.6 L902.4,394.0 L908.8,396.9 L915.2,402.0 L921.6,408.9 L928.0,417.2 L934.4,426.5 L940.8,436.5 L947.2,447.0 L953.6,457.9 L960.0,469.0 L966.4,480.4 L972.8,492.1 L979.2,504.3 L985.6,516.8 L992.0,529.8 L998.4,543.1 L1004.8,556.7 L1011.2,570.4 L1017.6,583.9 L1024.0,597.1 L1030.4,609.7 L1036.8,621.5 L1043.2,632.3 L1049.6,641.9 L1056.0,650.1 L1062.4,656.7 L1068.8,661.6 L1075.2,664.7 L1081.6,665.7 L1088.0,664.6 L1094.4,661.3 L1100.8,655.8 L1107.2,648.1 L1113.6,638.4 L1120.0,626.9 L1126.4,613.6 L1132.8,599.0 L1139.2,583.1 L1145.6,566.4 L1152.0,549.0" fill="none" stroke="#ff7f0e" stroke-opacity="0.3" stroke-width="4.17" stroke-linejoin="round" stroke-linecap="butt"/>
<path d="M160.0,557.8 L166.4,542.8 L172.8,527.4 L179.2,511.6 L185.6,495.5 L192.0,479.6 L198.4,464.2 L204.8,449.6 L211.2,436.4 L217.6,424.8 L224.0,415.1 L230.4,407.3 L236.8,401.6 L243.2,397.8 L249.6,395.7 L256.0,395.4 L262.4,396.7 L268.8,399.6 L275.2,404.1 L281.6,410.3 L288.0,418.2 L294.4,427.8 L300.8,439.2 L307.2,452.2 L313.6,466.7 L320.0,482.3 L326.4,498.8 L332.8,515.8 L339.2,533.0 L345.6,550.0 L352.0,566.8 L358.4,583.1 L364.8,598.7 L371.2,613.6 L377.6,627.5 L384.0,640.2 L390.4,651.5 L396.8,660.9 L403.2,668.3 L409.6,673.2 L416.0,675.5 L422.4,675.0 L428.8,671.9 L435.2,666.2 L441.6,658.4 L448.0,648.8 L454.4,637.8 L460.8,625.7 L467.2,613.0 L473.6,599.8 L480.0,586.2 L486.4,572.2 L492.8,557.8 L499.2,542.8 L505.6,527.4 L512.0,511.6 L518.4,495.5 L524.8,479.6 L531.2,464.2 L537.6,449.6 L544.0,436.4 L550.4,424.8 L556.8,415.1 L563.2,407.3 L569.6,401.6 L576.0,397.8 L582.4,395.7 L588.8,395.4 L595.2,396.7 L601.6,399.6 L608.0,404.1 L614.4,410.3 L620.8,418.2 L627.2,427.8 L633.6,439.2 L640.0,452.2 L646.4,466.7 L652.8,482.3 L659.2,498.8 L665.6,515.8 L672.0,533.0 L678.4,550.0 L684.8,566.8 L691.2,583.1 L697.6,598.7 L704.0,613.6 L710.4,627.5 L716.8,640.2 L723.2,651.5 L729.6,660.9 L736.0,668.3 L742.4,673.2 L748.8,675.5 L755.2,675.0 L761.6,671.9 L768.0,666.2 L774.4,658.4 L780.8,648.8 L787.2,637.8 L793.6,625.7 L800.0,613.0 L806.4,599.8 L812.8,586.2 L819.2,572.2 L825.6,557.8 L832.0,542.8 L838.4,527.4 L844.8,511.6 L851.2,495.5 L857.6,479.6 L864.0,464.2 L870.4,449.6 L876.8,436.4 L883.2,424.8 L889.6,415.1 L896.0,407.3 L902.4,401.6 L908.8,397.8 L915.2,395.7 L921.6,395.4 L928.0,396.7 L934.4,399.6 L940.8,404.1 L947.2,410.3 L953.6,418.2 L960.0,427.8 L966.4,439.2 L972.8,452.2 L979.2,466.7 L985.6,482.3 L992.0,498.8 L998.4,515.8 L1004.8,533.0 L1011.2,550.0 L1017.6,566.8 L1024.0,583.1 L1030.4,598.7 L1036.8,613.6 L1043.2,627.5 L1049.6,640.2 L1056.0,651.5 L1062.4,660.9 L1068.8,668.3 L1075.2,673.2 L1081.6,675.5 L1088.0,675.0 L1094.4,671.9 L1100.8,666.2 L1107.2,658.4 L1113.6,648.8 L1120.0,637.8 L1126.4,625.7 L1132.8,613.0 L1139.2,599.8 L1145.6,586.2 L1152.0,572.2" fill="none" stroke="#ff7f0e" stroke-opacity="0.3" stroke-width="4.17" stroke-linejoin="round" stroke-linecap="butt"/>
<path d="M160.0,650.8 L166.4,648.4 L172.8,644.2 L179.2,638.0 L185.6,629.9 L192.0,620.1 L198.4,608.8 L204.8,596.3 L211.2,582.8 L217.6,568.6 L224.0,553.9 L230.4,538.9 L236.8,523.6 L243.2,508.2 L249.6,492.8 L256.0,477.5 L262.4,462.4 L268.8,447.9 L275.2,434.2 L281.6,421.7 L288.0,410.7 L294.4,401.7 L300.8,394.8 L307.2,390.5 L313.6,388.8 L320.0,389.7 L326.4,393.3 L332.8,399.4 L339.2,407.9 L345.6,418.5 L352.0,431.1 L358.4,445.2 L364.8,460.7 L371.2,477.1 L377.6,494.1 L384.0,511.3 L390.4,528.3 L396.8,544.7 L403.2,560.1 L409.6,574.4 L416.0,587.2 L422.4,598.6 L428.8,608.6 L435.2,617.2 L441.6,624.6 L448.0,631.0 L454.4,636.5 L460.8,641.3 L467.2,645.3 L473.6,648.5 L480.0,650.6 L486.4,651.4 L492.8,650.8 L499.2,648.4 L505.6,644.2 L512.0,638.0 L518.4,629.9 L524.8,620.1 L531.2,608.8 L537.6,596.3 L544.0,582.8 L550.4,568.6 L556.8,553.9 L563.2,538.9 L569.6,523.6 L576.0,508.3 L582.4,492.8 L588.8,477.5 L595.2,462.4 L601.6,447.9 L608.0,434.2 L614.4,421.7 L620.8,410.7 L627.2,401.7 L633.6,394.8 L640.0,390.5 L646.4,388.8 L652.8,389.7 L659.2,393.3 L665.6,399.4 L672.0,407.9 L678.4,418.5 L684.8,431.1 L691.2,445.2 L697.6,460.7 L704.0,477.1 L710.4,494.1 L716.8,511.3 L723.2,528.3 L729.6,544.7 L736.0,560.1 L742.4,574.4 L748.8,587.2 L755.2,598.6 L761.6,608.6 L768.0,617.2 L774.4,624.6 L780.8,631.0 L787.2,636.5 L793.6,641.3 L800.0,645.3 L806.4,648.5 L812.8,650.6 L819.2,651.4 L825.6,650.8 L832.0,648.4 L838.4,644.2 L844.8,638.0 L851.2,629.9 L857.6,620.1 L864.0,608.8 L870.4,596.3 L876.8,582.8 L883.2,568.6 L889.6,553.9 L896.0,538.9 L902.4,523.6 L908.8,508.3 L915.2,492.8 L921.6,477.5 L928.0,462.4 L934.4,447.9 L940.8,434.2 L947.2,421.7 L953.6,410.7 L960.0,401.7 L966.4,394.8 L972.8,390.5 L979.2,388.8 L985.6,389.7 L992.0,393.3 L998.4,399.4 L1004.8,407.9 L1011.2,418.5 L1017.6,431.1 L1024.0,445.2 L1030.4,460.7 L1036.8,477.1 L1043.2,494.1 L1049.6,511.3 L1056.0,528.3 L1062.4,544.7 L1068.8,560.1 L1075.2,574.4 L1081.6,587.2 L1088.0,598.6 L1094.4,608.6 L1100.8,617.2 L1107.2,624.6 L1113.6,631.0 L1120.0,636.5 L1126.4,641.3 L1132.8,645.3 L1139.2,648.5 L1145.6,650.6 L1152.0,651.4" fill="none" stroke="#ff7f0e" stroke-opacity="0.3" stroke-width="4.17" stroke-linejoin="round" stroke-linecap="butt"/>
<path d="M160.0,424.1 L166.4,419.6 L172.8,416.6 L179.2,415.0 L185.6,414.9 L192.0,416.2 L198.4,418.8 L204.8,422.5 L211.2,427.3 L217.6,433.0 L224.0,439.5 L230.4,446.8 L236.8,454.9 L243.2,463.7 L249.6,473.3 L256.0,483.9 L262.4,495.4 L268.8,507.9 L275.2,521.4 L281.6,535.8 L288.0,550.9 L294.4,566.4 L300.8,582.0 L307.2,597.4 L313.6,612.2 L320.0,626.0 L326.4,638.4 L332.8,649.3 L339.2,658.2 L345.6,664.9 L352.0,669.4 L358.4,671.4 L364.8,670.8 L371.2,667.6 L377.6,661.8 L384.0,653.5 L390.4,642.8 L396.8,629.9 L403.2,615.3 L409.6,599.2 L416.0,582.0 L422.4,564.4 L428.8,546.6 L435.2,529.2 L441.6,512.5 L448.0,496.7 L454.4,482.1 L460.8,468.8 L467.2,457.0 L473.6,446.5 L480.0,437.6 L486.4,430.1 L492.8,424.1 L499.2,419.6 L505.6,416.6 L512.0,415.0 L518.4,414.9 L524.8,416.2 L531.2,418.8 L537.6,422.5 L544.0,427.3 L550.4,433.0 L556.8,439.5 L563.2,446.8 L569.6,454.9 L576.0,463.7 L582.4,473.3 L588.8,483.9 L595.2,495.4 L601.6,507.9 L608.0,521.4 L614.4,535.8 L620.8,550.9 L627.2,566.4 L633.6,582.0 L640.0,597.4 L646.4,612.2 L652.8,626.0 L659.2,638.4 L665.6,649.3 L672.0,658.2 L678.4,664.9 L684.8,669.4 L691.2,671.4 L697.6,670.8 L704.0,667.6 L710.4,661.8 L716.8,653.5 L723.2,642.8 L729.6,629.9 L736.0,615.3 L742.4,599.2 L748.8,582.0 L755.2,564.4 L761.6,546.6 L768.0,529.2 L774.4,512.5 L780.8,496.7 L787.2,482.1 L793.6,468.8 L800.0,457.0 L806.4,446.5 L812.8,437.6 L819.2,430.1 L825.6,424.1 L832.0,419.6 L838.4,416.6 L844.8,415.0 L851.2,414.9 L857.6,416.2 L864.0,418.8 L870.4,422.5 L876.8,427.3 L883.2,433.0 L889.6,439.5 L896.0,446.8 L902.4,454.9 L908.8,463.7 L915.2,473.3 L921.6,483.9 L928.0,495.4 L934.4,507.9 L940.8,521.4 L947.2,535.8 L953.6,550.9 L960.0,566.4 L966.4,582.0 L972.8,597.4 L979.2,612.2 L985.6,626.0 L992.0,638.4 L998.4,649.3 L1004.8,658.2 L1011.2,664.9 L1017.6,669.4 L1024.0,671.4 L1030.4,670.8 L1036.8,667.6 L1043.2,661.8 L1049.6,653.5 L1056.0,642.8 L1062.4,629.9 L1068.8,615.3 L1075.2,599.2 L1081.6,582.0 L1088.0,564.4 L1094.4,546.6 L1100.8,529.2 L1107.2,512.5 L1113.6,496.7 L1120.0,482.1 L1126.4,468.8 L1132.8,457.0 L1139.2,446.5 L1145.6,437.6 L1152.0,430.1" fill="none" stroke="#ff7f0e" stroke-opacity="0.3" stroke-width="4.17" stroke-linejoin="round" stroke-linecap="butt"/>
<path d="M160.0,399.3 L166.4,409.4 L172.8,421.5 L179.2,435.1 L185.6,449.7 L192.0,464.7 L198.4,479.9 L204.8,495.1 L211.2,509.9 L217.6,524.6 L224.0,539.1 L230.4,553.4 L236.8,567.6 L243.2,581.6 L249.6,595.2 L256.0,608.3 L262.4,620.6 L268.8,631.6 L275.2,641.3 L281.6,649.3 L288.0,655.6 L294.4,660.2 L300.8,663.0 L307.2,664.3 L313.6,664.0 L320.0,662.1 L326.4,658.8 L332.8,653.7 L339.2,646.9 L345.6,638.2 L352.0,627.5 L358.4,614.9 L364.8,600.4 L371.2,584.3 L377.6,567.1 L384.0,549.1 L390.4,530.8 L396.8,512.6 L403.2,495.0 L409.6,478.2 L416.0,462.4 L422.4,447.7 L428.8,434.2 L435.2,421.9 L441.6,411.0 L448.0,401.6 L454.4,393.9 L460.8,388.3 L467.2,385.0 L473.6,384.4 L480.0,386.6 L486.4,391.6 L492.8,399.3 L499.2,409.4 L505.6,421.5 L512.0,435.1 L518.4,449.7 L524.8,464.7 L531.2,479.9 L537.6,495.1 L544.0,509.9 L550.4,524.6 L556.8,539.1 L563.2,553.4 L569.6,567.6 L576.0,581.6 L582.4,595.2 L588.8,608.3 L595.2,620.6 L601.6,631.6 L608.0,641.3 L614.4,649.3 L620.8,655.6 L627.2,660.2 L633.6,663.0 L640.0,664.3 L646.4,664.0 L652.8,662.1 L659.2,658.8 L665.6,653.7 L672.0,646.9 L678.4,638.2 L684.8,627.5 L691.2,614.9 L697.6,600.4 L704.0,584.3 L710.4,567.1 L716.8,549.1 L723.2,530.8 L729.6,512.6 L736.0,495.0 L742.4,478.2 L748.8,462.4 L755.2,447.7 L761.6,434.2 L768.0,421.9 L774.4,411.0 L780.8,401.6 L787.2,393.9 L793.6,388.3 L800.0,385.0 L806.4,384.4 L812.8,386.6 L819.2,391.6 L825.6,399.3 L832.0,409.4 L838.4,421.5 L844.8,435.1 L851.2,449.7 L857.6,464.7 L864.0,479.9 L870.4,495.1 L876.8,509.9 L883.2,524.6 L889.6,539.1 L896.0,553.4 L902.4,567.6 L908.8,581.6 L915.2,595.2 L921.6,608.3 L928.0,620.6 L934.4,631.6 L940.8,641.3 L947.2,649.3 L953.6,655.6 L960.0,660.2 L966.4,663.0 L972.8,664.3 L979.2,664.0 L985.6,662.1 L992.0,658.8 L998.4,653.7 L1004.8,646.9 L1011.2,638.2 L1017.6,627.5 L1024.0,614.9 L1030.4,600.4 L1036.8,584.3 L1043.2,567.1 L1049.6,549.1 L1056.0,530.8 L1062.4,512.6 L1068.8,495.0 L1075.2,478.2 L1081.6,462.4 L1088.0,447.7 L1094.4,434.2 L1100.8,421.9 L1107.2,411.0 L1113.6,401.6 L1120.0,393.9 L1126.4,388.3 L1132.8,385.0 L1139.2,384.4 L1145.6,386.6 L1152.0,391.6" fill="none" stroke="#ff7f0e" stroke-opacity="0.3" stroke-width="4.17" stroke-linejoin="round" stroke-linecap="butt"/>
<path d="M160.0,498.1 L166.4,484.8 L172.8,472.4 L179.2,461.4 L185.6,452.2 L192.0,445.3 L198.4,440.6 L204.8,438.3 L211.2,438.4 L217.6,440.6 L224.0,444.9 L230.4,451.0 L236.8,458.9 L243.2,468.4 L249.6,479.2 L256.0,491.1 L262.4,503.8 L268.8,516.6 L275.2,529.2 L281.6,541.0 L288.0,551.2 L294.4,559.6 L300.8,565.8 L307.2,569.7 L313.6,571.5 L320.0,571.5 L326.4,570.3 L332.8,568.4 L339.2,566.6 L345.6,565.4 L352.0,565.0 L358.4,565.8 L364.8,567.7 L371.2,570.5 L377.6,573.9 L384.0,577.4 L390.4,580.8 L396.8,583.6 L403.2,585.7 L409.6,586.9 L416.0,587.1 L422.4,586.4 L428.8,584.7 L435.2,582.0 L441.6,578.1 L448.0,572.9 L454.4,566.3 L460.8,558.2 L467.2,548.5 L473.6,537.3 L480.0,524.9 L486.4,511.7 L492.8,498.1 L499.2,484.8 L505.6,472.4 L512.0,461.4 L518.4,452.2 L524.8,445.3 L531.2,440.6 L537.6,438.3 L544.0,438.4 L550.4,440.6 L556.8,444.9 L563.2,451.0 L569.6,458.9 L576.0,468.4 L582.4,479.2 L588.8,491.1 L595.2,503.8 L601.6,516.6 L608.0,529.2 L614.4,541.0 L620.8,551.2 L627.2,559.6 L633.6,565.8 L640.0,569.7 L646.4,571.5 L652.8,571.5 L659.2,570.3 L665.6,568.4 L672.0,566.6 L678.4,565.4 L684.8,565.0 L691.2,565.8 L697.6,567.7 L704.0,570.5 L710.4,573.9 L716.8,577.4 L723.2,580.8 L729.6,583.6 L736.0,585.7 L742.4,586.9 L748.8,587.1 L755.2,586.4 L761.6,584.7 L768.0,582.0 L774.4,578.1 L780.8,572.9 L787.2,566.3 L793.6,558.2 L800.0,548.5 L806.4,537.3 L812.8,524.9 L819.2,511.7 L825.6,498.1 L832.0,484.8 L838.4,472.4 L844.8,461.4 L851.2,452.2 L857.6,445.3 L864.0,440.6 L870.4,438.3 L876.8,438.4 L883.2,440.6 L889.6,444.9 L896.0,451.0 L902.4,458.9 L908.8,468.4 L915.2,479.2 L921.6,491.1 L928.0,503.8 L934.4,516.6 L940.8,529.2 L947.2,541.0 L953.6,551.2 L960.0,559.6 L966.4,565.8 L972.8,569.7 L979.2,571.5 L985.6,571.5 L992.0,570.3 L998.4,568.4 L1004.8,566.6 L1011.2,565.4 L1017.6,565.0 L1024.0,565.8 L1030.4,567.7 L1036.8,570.5 L1043.2,573.9 L1049.6,577.4 L1056.0,580.8 L1062.4,583.6 L1068.8,585.7 L1075.2,586.9 L1081.6,587.1 L1088.0,586.4 L1094.4,584.7 L1100.8,582.0 L1107.2,578.1 L1113.6,572.9 L1120.0,566.3 L1126.4,558.2 L1132.8,548.5 L1139.2,537.3 L1145.6,524.9 L1152.0,511.7" fill="none" stroke="#ff7f0e" stroke-opacity="0.3" stroke-width="4.17" stroke-linejoin="round" stroke-linecap="butt"/>
<path d="M160.0,513.0 L166.4,498.3 L172.8,485.9 L179.2,475.8 L185.6,467.9 L192.0,461.8 L198.4,457.0 L204.8,453.1 L211.2,449.6 L217.6,446.3 L224.0,443.1 L230.4,440.1 L236.8,437.6 L243.2,435.9 L249.6,435.4 L256.0,436.5 L262.4,439.2 L268.8,443.7 L275.2,449.7 L281.6,456.9 L288.0,465.0 L294.4,473.7 L300.8,482.6 L307.2,491.6 L313.6,500.6 L320.0,509.7 L326.4,519.0 L332.8,528.7 L339.2,539.0 L345.6,549.9 L352.0,561.4 L358.4,573.4 L364.8,585.7 L371.2,597.8 L377.6,609.5 L384.0,620.4 L390.4,630.2 L396.8,638.5 L403.2,645.2 L409.6,650.0 L416.0,652.8 L422.4,653.2 L428.8,651.2 L435.2,646.5 L441.6,639.0 L448.0,628.7 L454.4,615.7 L460.8,600.5 L467.2,583.6 L473.6,565.5 L480.0,547.2 L486.4,529.5 L492.8,513.0 L499.2,498.3 L505.6,485.9 L512.0,475.8 L518.4,467.9 L524.8,461.8 L531.2,457.0 L537.6,453.1 L544.0,449.6 L550.4,446.3 L556.8,443.1 L563.2,440.1 L569.6,437.6 L576.0,435.9 L582.4,435.4 L588.8,436.5 L595.2,439.2 L601.6,443.7 L608.0,449.7 L614.4,456.9 L620.8,465.0 L627.2,473.7 L633.6,482.6 L640.0,491.6 L646.4,500.6 L652.8,509.7 L659.2,519.0 L665.6,528.7 L672.0,539.0 L678.4,549.9 L684.8,561.4 L691.2,573.4 L697.6,585.7 L704.0,597.8 L710.4,609.5 L716.8,620.4 L723.2,630.2 L729.6,638.5 L736.0,645.2 L742.4,650.0 L748.8,652.8 L755.2,653.2 L761.6,651.2 L768.0,646.5 L774.4,639.0 L780.8,628.7 L787.2,615.7 L793.6,600.5 L800.0,583.6 L806.4,565.5 L812.8,547.2 L819.2,529.5 L825.6,513.0 L832.0,498.3 L838.4,485.9 L844.8,475.8 L851.2,467.9 L857.6,461.8 L864.0,457.0 L870.4,453.1 L876.8,449.6 L883.2,446.3 L889.6,443.1 L896.0,440.1 L902.4,437.6 L908.8,435.9 L915.2,435.4 L921.6,436.5 L928.0,439.2 L934.4,443.7 L940.8,449.7 L947.2,456.9 L953.6,465.0 L960.0,473.7 L966.4,482.6 L972.8,491.6 L979.2,500.6 L985.6,509.7 L992.0,519.0 L998.4,528.7 L1004.8,539.0 L1011.2,549.9 L1017.6,561.4 L1024.0,573.4 L1030.4,585.7 L1036.8,597.8 L1043.2,609.5 L1049.6,620.4 L1056.0,630.2 L1062.4,638.5 L1068.8,645.2 L1075.2,650.1 L1081.6,652.8 L1088.0,653.2 L1094.4,651.2 L1100.8,646.5 L1107.2,639.0 L1113.6,628.7 L1120.0,615.7 L1126.4,600.5 L1132.8,583.6 L1139.2,565.5 L1145.6,547.2 L1152.0,529.5" fill="none" stroke="#ff7f0e" stroke-opacity="0.3" stroke-width="4.17" stroke-linejoin="round" stroke-linecap="butt"/>
<path d="M160.0,646.7 L166.4,651.8 L172.8,653.6 L179.2,652.5 L185.6,648.8 L192.0,643.1 L198.4,635.6 L204.8,626.7 L211.2,616.5 L217.6,605.3 L224.0,593.3 L230.4,580.7 L236.8,567.7 L243.2,554.7 L249.6,542.2 L256.0,530.5 L262.4,519.9 L268.8,510.9 L275.2,503.4 L281.6,497.4 L288.0,492.7 L294.4,489.1 L300.8,486.2 L307.2,483.6 L313.6,481.2 L320.0,478.6 L326.4,475.8 L332.8,472.8 L339.2,469.6 L345.6,466.4 L352.0,463.1 L358.4,459.8 L364.8,456.7 L371.2,453.6 L377.6,450.8 L384.0,448.4 L390.4,446.7 L396.8,446.0 L403.2,446.9 L409.6,449.9 L416.0,455.6 L422.4,464.3 L428.8,476.3 L435.2,491.3 L441.6,509.2 L448.0,529.1 L454.4,550.3 L460.8,571.5 L467.2,591.8 L473.6,610.1 L480.0,625.7 L486.4,638.0 L492.8,646.7 L499.2,651.8 L505.6,653.6 L512.0,652.5 L518.4,648.8 L524.8,643.1 L531.2,635.6 L537.6,626.7 L544.0,616.5 L550.4,605.3 L556.8,593.3 L563.2,580.7 L569.6,567.7 L576.0,554.7 L582.4,542.2 L588.8,530.5 L595.2,519.9 L601.6,510.9 L608.0,503.4 L614.4,497.4 L620.8,492.7 L627.2,489.1 L633.6,486.2 L640.0,483.6 L646.4,481.2 L652.8,478.6 L659.2,475.8 L665.6,472.8 L672.0,469.6 L678.4,466.4 L684.8,463.1 L691.2,459.8 L697.6,456.7 L704.0,453.6 L710.4,450.8 L716.8,448.4 L723.2,446.7 L729.6,446.0 L736.0,446.9 L742.4,449.9 L748.8,455.6 L755.2,464.3 L761.6,476.3 L768.0,491.3 L774.4,509.2 L780.8,529.1 L787.2,550.3 L793.6,571.5 L800.0,591.8 L806.4,610.1 L812.8,625.7 L819.2,638.0 L825.6,646.7 L832.0,651.8 L838.4,653.6 L844.8,652.5 L851.2,648.8 L857.6,643.1 L864.0,635.6 L870.4,626.7 L876.8,616.5 L883.2,605.3 L889.6,593.3 L896.0,580.7 L902.4,567.7 L908.8,554.7 L915.2,542.2 L921.6,530.5 L928.0,519.9 L934.4,510.9 L940.8,503.4 L947.2,497.4 L953.6,492.7 L960.0,489.1 L966.4,486.2 L972.8,483.6 L979.2,481.2 L985.6,478.6 L992.0,475.8 L998.4,472.8 L1004.8,469.6 L1011.2,466.4 L1017.6,463.1 L1024.0,459.8 L1030.4,456.7 L1036.8,453.6 L1043.2,450.8 L1049.6,448.4 L1056.0,446.7 L1062.4,446.0 L1068.8,446.9 L1075.2,449.9 L1081.6,455.6 L1088.0,464.3 L1094.4,476.3 L1100.8,491.3 L1107.2,509.2 L1113.6,529.1 L1120.0,550.3 L1126.4,571.5 L1132.8,591.8 L1139.2,610.1 L1145.6,625.7 L1152.0,638.0" fill="none" stroke="#ff7f0e" stroke-opacity="0.3" stroke-width="4.17" stroke-linejoin="round" stroke-linecap="butt"/>
<path d="M160.0,600.5 L166.4,589.4 L172.8,576.3 L179.2,561.6 L185.6,545.8 L192.0,529.4 L198.4,512.9 L204.8,496.8 L211.2,481.7 L217.6,468.1 L224.0,456.5 L230.4,447.2 L236.8,440.4 L243.2,436.4 L249.6,435.0 L256.0,436.1 L262.4,439.4 L268.8,444.7 L275.2,451.4 L281.6,459.2 L288.0,467.6 L294.4,476.1 L300.8,484.6 L307.2,492.7 L313.6,500.3 L320.0,507.2 L326.4,513.5 L332.8,519.1 L339.2,524.0 L345.6,528.4 L352.0,532.3 L358.4,535.9 L364.8,539.3 L371.2,542.7 L377.6,546.3 L384.0,550.2 L390.4,554.6 L396.8,559.6 L403.2,565.4 L409.6,571.9 L416.0,578.9 L422.4,586.4 L428.8,594.0 L435.2,601.5 L441.6,608.4 L448.0,614.2 L454.4,618.7 L460.8,621.4 L467.2,622.0 L473.6,620.3 L480.0,616.1 L486.4,609.5 L492.8,600.5 L499.2,589.4 L505.6,576.3 L512.0,561.6 L518.4,545.8 L524.8,529.4 L531.2,512.9 L537.6,496.8 L544.0,481.7 L550.4,468.1 L556.8,456.5 L563.2,447.2 L569.6,440.4 L576.0,436.4 L582.4,435.0 L588.8,436.1 L595.2,439.4 L601.6,444.7 L608.0,451.4 L614.4,459.2 L620.8,467.6 L627.2,476.1 L633.6,484.6 L640.0,492.7 L646.4,500.3 L652.8,507.2 L659.2,513.5 L665.6,519.1 L672.0,524.0 L678.4,528.4 L684.8,532.3 L691.2,535.9 L697.6,539.3 L704.0,542.7 L710.4,546.3 L716.8,550.2 L723.2,554.6 L729.6,559.6 L736.0,565.4 L742.4,571.9 L748.8,578.9 L755.2,586.4 L761.6,594.0 L768.0,601.5 L774.4,608.4 L780.8,614.2 L787.2,618.7 L793.6,621.4 L800.0,622.0 L806.4,620.3 L812.8,616.1 L819.2,609.5 L825.6,600.5 L832.0,589.4 L838.4,576.3 L844.8,561.6 L851.2,545.8 L857.6,529.4 L864.0,512.9 L870.4,496.8 L876.8,481.7 L883.2,468.1 L889.6,456.5 L896.0,447.2 L902.4,440.4 L908.8,436.4 L915.2,435.0 L921.6,436.1 L928.0,439.4 L934.4,444.7 L940.8,451.4 L947.2,459.2 L953.6,467.6 L960.0,476.1 L966.4,484.6 L972.8,492.7 L979.2,500.3 L985.6,507.2 L992.0,513.5 L998.4,519.1 L1004.8,524.0 L1011.2,528.4 L1017.6,532.3 L1024.0,535.9 L1030.4,539.3 L1036.8,542.7 L1043.2,546.3 L1049.6,550.2 L1056.0,554.6 L1062.4,559.6 L1068.8,565.4 L1075.2,571.9 L1081.6,578.9 L1088.0,586.4 L1094.4,594.0 L1100.8,601.5 L1107.2,608.4 L1113.6,614.2 L1120.0,618.7 L1126.4,621.4 L1132.8,622.0 L1139.2,620.3 L1145.6,616.1 L1152.0,609.5" fill="none" stroke="#ff7f0e" stroke-opacity="0.3" stroke-width="4.17" stroke-linejoin="round" stroke-linecap="butt"/>
</g>
<path d="M160.0,854.4v9.7M492.8,854.4v9.7M832.0,854.4v9.7M1152.0,854.4v9.7" stroke="#000" stroke-width="2.22" fill="none"/>
<path d="M192.0,854.4v5.6M217.6,854.4v5.6M243.2,854.4v5.6M268.8,854.4v5.6M300.8,854.4v5.6M326.4,854.4v5.6M358.4,854.4v5.6M384.0,854.4v5.6M409.6,854.4v5.6M441.6,854.4v5.6M467.2,854.4v5.6M524.8,854.4v5.6M550.4,854.4v5.6M576.0,854.4v5.6M608.0,854.4v5.6M633.6,854.4v5.6M659.2,854.4v5.6M691.2,854.4v5.6M716.8,854.4v5.6M748.8,854.4v5.6M774.4,854.4v5.6M800.0,854.4v5.6M857.6,854.4v5.6M883.2,854.4v5.6M915.2,854.4v5.6M940.8,854.4v5.6M966.4,854.4v5.6M998.4,854.4v5.6M1024.0,854.4v5.6M1049.6,854.4v5.6M1081.6,854.4v5.6M1107.2,854.4v5.6M1132.8,854.4v5.6" stroke="#000" stroke-width="1.67" fill="none"/>
<path d="M160.0,119.4h-9.7M160.0,256.6h-9.7M160.0,393.8h-9.7M160.0,531.0h-9.7M160.0,668.2h-9.7M160.0,805.4h-9.7" stroke="#000" stroke-width="2.22" fill="none"/>
<rect x="160.0" y="115.2" width="992.0" height="739.2" fill="none" stroke="#000" stroke-width="2.22"/>
<text x="139.7" y="130.0" font-size="30.30" text-anchor="end" font-family="Liberation Sans, sans-serif" fill="#000" textLength="42.0" lengthAdjust="spacingAndGlyphs">0.6</text>
<text x="139.7" y="267.2" font-size="30.30" text-anchor="end" font-family="Liberation Sans, sans-serif" fill="#000" textLength="42.0" lengthAdjust="spacingAndGlyphs">0.4</text>
<text x="139.7" y="404.4" font-size="30.30" text-anchor="end" font-family="Liberation Sans, sans-serif" fill="#000" textLength="42.0" lengthAdjust="spacingAndGlyphs">0.2</text>
<text x="139.7" y="541.6" font-size="30.30" text-anchor="end" font-family="Liberation Sans, sans-serif" fill="#000" textLength="42.0" lengthAdjust="spacingAndGlyphs">0.0</text>
<text x="74.0" y="678.8" font-size="30.30" text-anchor="start" font-family="Liberation Sans, sans-serif" fill="#000" textLength="21.5" lengthAdjust="spacingAndGlyphs">−</text>
<text x="139.7" y="678.8" font-size="30.30" text-anchor="end" font-family="Liberation Sans, sans-serif" fill="#000" textLength="42.0" lengthAdjust="spacingAndGlyphs">0.2</text>
<text x="74.0" y="816.0" font-size="30.30" text-anchor="start" font-family="Liberation Sans, sans-serif" fill="#000" textLength="21.5" lengthAdjust="spacingAndGlyphs">−</text>
<text x="139.7" y="816.0" font-size="30.30" text-anchor="end" font-family="Liberation Sans, sans-serif" fill="#000" textLength="42.0" lengthAdjust="spacingAndGlyphs">0.4</text>
<text x="159.7" y="896.6" font-size="30.30" text-anchor="middle" font-family="Liberation Sans, sans-serif" fill="#000" textLength="40.5" lengthAdjust="spacingAndGlyphs">Jan</text>
<text x="159.5" y="928.0" font-size="30.30" text-anchor="middle" font-family="Liberation Sans, sans-serif" fill="#000" textLength="70.0" lengthAdjust="spacingAndGlyphs">2023</text>
<text x="492.5" y="896.6" font-size="30.30" text-anchor="middle" font-family="Liberation Sans, sans-serif" fill="#000" textLength="40.5" lengthAdjust="spacingAndGlyphs">Jan</text>
<text x="492.3" y="928.0" font-size="30.30" text-anchor="middle" font-family="Liberation Sans, sans-serif" fill="#000" textLength="70.0" lengthAdjust="spacingAndGlyphs">2024</text>
<text x="831.7" y="896.6" font-size="30.30" text-anchor="middle" font-family="Liberation Sans, sans-serif" fill="#000" textLength="40.5" lengthAdjust="spacingAndGlyphs">Jan</text>
<text x="831.5" y="928.0" font-size="30.30" text-anchor="middle" font-family="Liberation Sans, sans-serif" fill="#000" textLength="70.0" lengthAdjust="spacingAndGlyphs">2025</text>
<text x="326.7" y="891.6" font-size="30.30" text-anchor="middle" font-family="Liberation Sans, sans-serif" fill="#000" textLength="31.5" lengthAdjust="spacingAndGlyphs">Jul</text>
<text x="659.5" y="891.6" font-size="30.30" text-anchor="middle" font-family="Liberation Sans, sans-serif" fill="#000" textLength="31.5" lengthAdjust="spacingAndGlyphs">Jul</text>
<text x="998.7" y="891.6" font-size="30.30" text-anchor="middle" font-family="Liberation Sans, sans-serif" fill="#000" textLength="31.5" lengthAdjust="spacingAndGlyphs">Jul</text>
<text x="655.5" y="965.3" font-size="30.30" text-anchor="middle" font-family="Liberation Sans, sans-serif" fill="#000" textLength="62.5" lengthAdjust="spacingAndGlyphs">time</text>
<text x="356.0" y="98.9" font-size="35.40" text-anchor="start" font-family="Liberation Sans, sans-serif" fill="#000" textLength="181.5" lengthAdjust="spacingAndGlyphs">Demeaned</text>
<text x="549.5" y="98.9" font-size="35.40" text-anchor="start" font-family="Liberation Sans, sans-serif" fill="#000" textLength="54.0" lengthAdjust="spacingAndGlyphs">the</text>
<text x="615.5" y="98.9" font-size="35.40" text-anchor="start" font-family="Liberation Sans, sans-serif" fill="#000" textLength="168.5" lengthAdjust="spacingAndGlyphs">intercepty</text>
<text x="795.5" y="98.9" font-size="35.40" text-anchor="start" font-family="Liberation Sans, sans-serif" fill="#000" textLength="60.5" lengthAdjust="spacingAndGlyphs">first</text>
<text x="868.0" y="98.9" font-size="35.40" text-anchor="start" font-family="Liberation Sans, sans-serif" fill="#000" textLength="88.5" lengthAdjust="spacingAndGlyphs">basis</text>
<rect x="797.5" y="129.5" width="340.9" height="91.7" rx="5" ry="5" fill="#fff" fill-opacity="0.8" stroke="#ccc" stroke-opacity="0.8" stroke-width="2.78"/>
<rect x="808.5" y="143.6" width="56" height="18.9" fill="#1f77b4" fill-opacity="0.5" stroke="#1f77b4" stroke-opacity="0.5" stroke-width="2.78"/>
<rect x="808.5" y="185.5" width="56" height="18.9" fill="#ff7f0e" fill-opacity="0.5" stroke="#ff7f0e" stroke-opacity="0.5" stroke-width="2.78"/>
<text x="885.8" y="161.4" font-size="30.00" text-anchor="start" font-family="Liberation Sans, sans-serif" fill="#000" textLength="146.5" lengthAdjust="spacingAndGlyphs">demeaned</text>
<text x="1034.5" y="161.4" font-size="30.00" text-anchor="start" font-family="Liberation Sans, sans-serif" fill="#000" textLength="20.0" lengthAdjust="spacingAndGlyphs">=</text>
<text x="1057.0" y="161.4" font-size="30.00" text-anchor="start" font-family="Liberation Sans, sans-serif" fill="#000" textLength="68.5" lengthAdjust="spacingAndGlyphs">False</text>
<text x="885.8" y="203.2" font-size="30.00" text-anchor="start" font-family="Liberation Sans, sans-serif" fill="#000" textLength="146.5" lengthAdjust="spacingAndGlyphs">demeaned</text>
<text x="1034.5" y="203.2" font-size="30.00" text-anchor="start" font-family="Liberation Sans, sans-serif" fill="#000" textLength="20.0" lengthAdjust="spacingAndGlyphs">=</text>
<text x="1055.5" y="203.2" font-size="30.00" text-anchor="start" font-family="Liberation Sans, sans-serif" fill="#000" textLength="60.5" lengthAdjust="spacingAndGlyphs">True</text>
</svg>
</body></html>
